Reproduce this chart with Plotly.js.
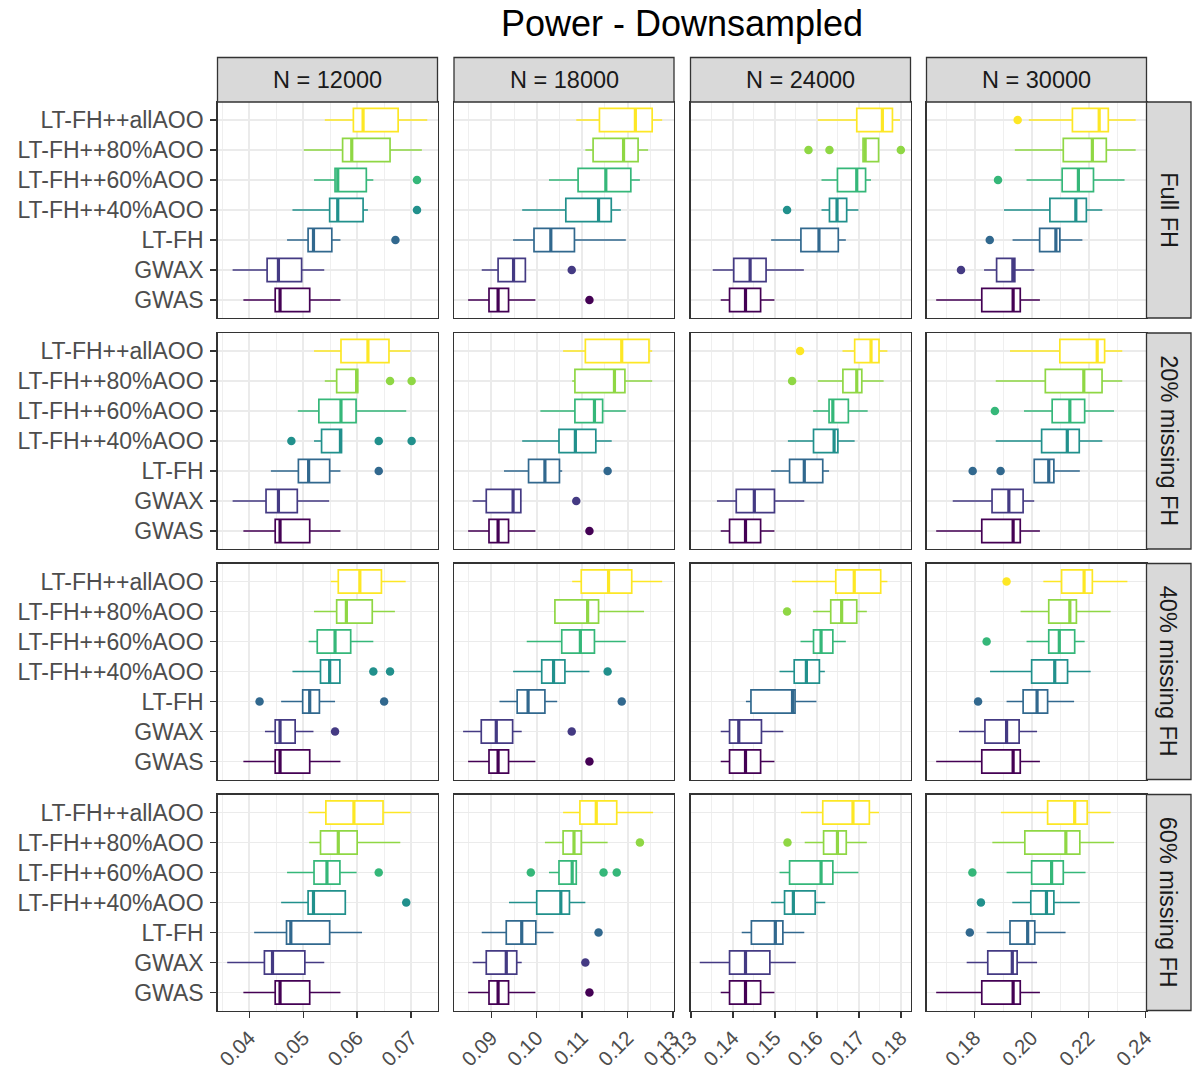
<!DOCTYPE html>
<html>
<head>
<meta charset="utf-8">
<script src="https://cdn.plot.ly/plotly-3.0.1.min.js"></script>
<style>html,body{margin:0;padding:0;background:#fff;}#chart{width:1196px;height:1072px;}</style>
</head>
<body>
<div id="chart"></div>
<script>
// ---------------- DATA ----------------
// categories, bottom to top
const categories = ["GWAS", "GWAX", "LT-FH", "LT-FH++40%AOO", "LT-FH++60%AOO", "LT-FH++80%AOO", "LT-FH++allAOO"];
const sampleSizes = ["N = 12000", "N = 18000", "N = 24000", "N = 30000"];
const fhSettings = ["Full FH", "20% missing FH", "40% missing FH", "60% missing FH"];
const colors = ["#440154", "#443A83", "#31688E", "#21908C", "#35B779", "#8FD744", "#FDE725"];

// each: [lowerWhisker, Q1, median, Q3, upperWhisker] per category (order as `categories`), per sample size
const statsFullFH = [
  [[0.0389,0.0448,0.0457,0.0512,0.0569],[0.0369,0.0433,0.0454,0.0497,0.0539],[0.0470,0.0509,0.0519,0.0553,0.0569],[0.0480,0.0549,0.0564,0.0611,0.0620],[0.0520,0.0559,0.0564,0.0617,0.0630],[0.0501,0.0573,0.0590,0.0661,0.0720],[0.0540,0.0593,0.0611,0.0676,0.0730]],
  [[0.0849,0.0895,0.0915,0.0938,0.0997],[0.0879,0.0915,0.0949,0.0975,0.0976],[0.0948,0.0994,0.1031,0.1083,0.1196],[0.0968,0.1064,0.1136,0.1164,0.1185],[0.1027,0.1091,0.1152,0.1207,0.1227],[0.1107,0.1124,0.1191,0.1223,0.1245],[0.1087,0.1138,0.1217,0.1254,0.1276]],
  [[0.1371,0.1392,0.1430,0.1466,0.1499],[0.1352,0.1402,0.1441,0.1479,0.1569],[0.1491,0.1562,0.1605,0.1651,0.1669],[0.1611,0.1630,0.1648,0.1671,0.1699],[0.1611,0.1649,0.1695,0.1716,0.1729],[0.1710,0.1710,0.1715,0.1747,0.1748],[0.1602,0.1695,0.1756,0.1780,0.1798]],
  [[0.1665,0.1825,0.1935,0.1960,0.2029],[0.1833,0.1877,0.1934,0.1941,0.2009],[0.1933,0.2028,0.2085,0.2099,0.2178],[0.1903,0.2064,0.2155,0.2192,0.2248],[0.1982,0.2107,0.2164,0.2217,0.2326],[0.1941,0.2111,0.2213,0.2262,0.2365],[0.1990,0.2143,0.2237,0.2269,0.2365]]
];
const stats20 = [
  [[0.0389,0.0448,0.0457,0.0512,0.0569],[0.0369,0.0431,0.0454,0.0489,0.0548],[0.0440,0.0491,0.0510,0.0549,0.0569],[0.0520,0.0534,0.0569,0.0571,0.0571],[0.0490,0.0529,0.0570,0.0598,0.0691],[0.0540,0.0562,0.0599,0.0601,0.0601],[0.0520,0.0570,0.0620,0.0659,0.0699]],
  [[0.0849,0.0895,0.0915,0.0938,0.0997],[0.0859,0.0889,0.0948,0.0965,0.0967],[0.0928,0.0982,0.1018,0.1050,0.1056],[0.0968,0.1049,0.1085,0.1130,0.1165],[0.1008,0.1084,0.1127,0.1145,0.1196],[0.1078,0.1084,0.1171,0.1194,0.1254],[0.1058,0.1107,0.1187,0.1247,0.1254]],
  [[0.1371,0.1392,0.1430,0.1466,0.1499],[0.1362,0.1408,0.1451,0.1499,0.1570],[0.1491,0.1535,0.1570,0.1614,0.1629],[0.1531,0.1592,0.1641,0.1650,0.1690],[0.1591,0.1629,0.1638,0.1675,0.1721],[0.1602,0.1662,0.1695,0.1707,0.1759],[0.1661,0.1690,0.1729,0.1748,0.1768]],
  [[0.1665,0.1825,0.1935,0.1960,0.2029],[0.1723,0.1861,0.1920,0.1970,0.2009],[0.2009,0.2009,0.2060,0.2078,0.2169],[0.1874,0.2035,0.2125,0.2167,0.2248],[0.1973,0.2072,0.2134,0.2186,0.2289],[0.1874,0.2048,0.2183,0.2247,0.2318],[0.1924,0.2099,0.2230,0.2256,0.2318]]
];
const stats40 = [
  [[0.0389,0.0448,0.0457,0.0512,0.0569],[0.0429,0.0448,0.0457,0.0485,0.0519],[0.0459,0.0499,0.0512,0.0530,0.0559],[0.0480,0.0532,0.0549,0.0568,0.0569],[0.0510,0.0526,0.0559,0.0588,0.0630],[0.0520,0.0562,0.0580,0.0628,0.0670],[0.0551,0.0565,0.0605,0.0645,0.0690]],
  [[0.0849,0.0895,0.0915,0.0938,0.0997],[0.0838,0.0878,0.0911,0.0947,0.0967],[0.0918,0.0957,0.0981,0.1018,0.1045],[0.0948,0.1011,0.1037,0.1062,0.1116],[0.0978,0.1055,0.1096,0.1127,0.1196],[0.1038,0.1040,0.1112,0.1136,0.1236],[0.1078,0.1098,0.1158,0.1209,0.1276]],
  [[0.1371,0.1392,0.1430,0.1466,0.1499],[0.1371,0.1392,0.1414,0.1468,0.1520],[0.1431,0.1443,0.1542,0.1548,0.1599],[0.1511,0.1546,0.1575,0.1606,0.1619],[0.1561,0.1592,0.1610,0.1638,0.1669],[0.1591,0.1633,0.1659,0.1695,0.1719],[0.1541,0.1645,0.1689,0.1752,0.1768]],
  [[0.1665,0.1825,0.1935,0.1960,0.2029],[0.1745,0.1836,0.1912,0.1956,0.2019],[0.1912,0.1970,0.2019,0.2056,0.2149],[0.1854,0.2000,0.2081,0.2126,0.2207],[0.1982,0.2060,0.2097,0.2151,0.2186],[0.1961,0.2060,0.2134,0.2157,0.2277],[0.2041,0.2105,0.2184,0.2213,0.2336]]
];
const stats60 = [
  [[0.0389,0.0448,0.0457,0.0512,0.0569],[0.0359,0.0428,0.0443,0.0503,0.0539],[0.0409,0.0469,0.0477,0.0549,0.0609],[0.0459,0.0509,0.0519,0.0578,0.0578],[0.0470,0.0520,0.0544,0.0568,0.0599],[0.0511,0.0532,0.0565,0.0600,0.0680],[0.0510,0.0542,0.0594,0.0648,0.0699]],
  [[0.0849,0.0895,0.0915,0.0938,0.0997],[0.0859,0.0889,0.0933,0.0956,0.0967],[0.0879,0.0933,0.0967,0.0998,0.1037],[0.0939,0.1000,0.1053,0.1072,0.1107],[0.1027,0.1049,0.1078,0.1087,0.1087],[0.1018,0.1058,0.1082,0.1098,0.1156],[0.1058,0.1095,0.1131,0.1176,0.1256]],
  [[0.1371,0.1392,0.1430,0.1466,0.1499],[0.1321,0.1392,0.1430,0.1488,0.1550],[0.1421,0.1444,0.1501,0.1519,0.1570],[0.1491,0.1523,0.1544,0.1596,0.1620],[0.1511,0.1535,0.1610,0.1638,0.1699],[0.1571,0.1616,0.1649,0.1670,0.1719],[0.1562,0.1614,0.1686,0.1725,0.1748]],
  [[0.1665,0.1825,0.1935,0.1960,0.2029],[0.1772,0.1846,0.1932,0.1949,0.2019],[0.1842,0.1924,0.1986,0.2011,0.2119],[0.1932,0.1997,0.2052,0.2078,0.2169],[0.1912,0.2000,0.2070,0.2111,0.2189],[0.1862,0.1976,0.2120,0.2169,0.2289],[0.1892,0.2056,0.2151,0.2195,0.2277]]
];

// outliers per sample size: [category, value]
const outliersFullFH = [
  [["LT-FH",0.0671],["LT-FH++40%AOO",0.0711],["LT-FH++60%AOO",0.0711]],
  [["GWAS",0.1116],["GWAX",0.1077]],
  [["LT-FH++40%AOO",0.1529],["LT-FH++80%AOO",0.1580],["LT-FH++80%AOO",0.1630],["LT-FH++80%AOO",0.1800]],
  [["GWAX",0.1752],["LT-FH",0.1853],["LT-FH++60%AOO",0.1882],["LT-FH++allAOO",0.1951]]
];
const outliers20 = [
  [["LT-FH",0.0640],["LT-FH++40%AOO",0.0478],["LT-FH++40%AOO",0.0640],["LT-FH++40%AOO",0.0701],["LT-FH++80%AOO",0.0661],["LT-FH++80%AOO",0.0701]],
  [["GWAS",0.1116],["GWAX",0.1087],["LT-FH",0.1156]],
  [["LT-FH++80%AOO",0.1541],["LT-FH++allAOO",0.1560]],
  [["LT-FH",0.1793],["LT-FH",0.1891],["LT-FH++60%AOO",0.1871]]
];
const outliers40 = [
  [["GWAX",0.0559],["LT-FH",0.0419],["LT-FH",0.0650],["LT-FH++40%AOO",0.0630],["LT-FH++40%AOO",0.0661]],
  [["GWAS",0.1116],["GWAX",0.1077],["LT-FH",0.1187],["LT-FH++40%AOO",0.1156]],
  [["LT-FH++80%AOO",0.1529]],
  [["LT-FH",0.1812],["LT-FH++60%AOO",0.1842],["LT-FH++allAOO",0.1912]]
];
const outliers60 = [
  [["LT-FH++40%AOO",0.0691],["LT-FH++60%AOO",0.0640]],
  [["GWAS",0.1116],["GWAX",0.1107],["LT-FH",0.1136],["LT-FH++60%AOO",0.0987],["LT-FH++60%AOO",0.1147],["LT-FH++60%AOO",0.1176],["LT-FH++80%AOO",0.1227]],
  [["LT-FH++80%AOO",0.1530]],
  [["LT-FH",0.1783],["LT-FH++40%AOO",0.1822],["LT-FH++60%AOO",0.1792]]
];

const allStats = [statsFullFH, stats20, stats40, stats60];
const allOutliers = [outliersFullFH, outliers20, outliers40, outliers60];

// x-axis ticks per sample size column
const xTick0 = [0.04, 0.09, 0.13, 0.18];
const xDtick = [0.01, 0.01, 0.01, 0.02];

// ---------------- LAYOUT GEOMETRY ----------------
const W = 1196, H = 1072;
const colPx = [[217.5,437.5],[454,674],[690.5,910.5],[926.5,1146.5]];
const rowPx = [[102,318],[333,549],[563.5,779.5],[794.5,1010.5]];
const xRanges = [[0.0341,0.0749],[0.0818,0.1302],[0.1299,0.1823],[0.1631,0.2403]];
const FONT = "Liberation Sans, Arial, Helvetica, sans-serif";

const data = [];
const layout = {
  width: W, height: H,
  margin: {l:0, r:0, t:0, b:0},
  paper_bgcolor: "#ffffff", plot_bgcolor: "#ffffff",
  showlegend: false,
  boxmode: "overlay",
  font: {family: FONT, color: "#4D4D4D"},
  title: {text: "Power - Downsampled", x: 682/W, xanchor: "center", y: 1 - 23/H, yanchor: "middle",
          font: {family: FONT, size: 36, color: "#000000"}},
  shapes: [], annotations: []
};

for (let r = 0; r < 4; r++) {
  for (let c = 0; c < 4; c++) {
    const n = r*4 + c + 1;
    const xa = n === 1 ? "xaxis" : "xaxis" + n;
    const ya = n === 1 ? "yaxis" : "yaxis" + n;
    const xr = n === 1 ? "x" : "x" + n;
    const yr = n === 1 ? "y" : "y" + n;
    const bottom = (r === 3), left = (c === 0);
    layout[xa] = {
      domain: [colPx[c][0]/W, colPx[c][1]/W],
      anchor: yr, range: xRanges[c], autorange: false,
      tickmode: "linear", tick0: xTick0[c], dtick: xDtick[c], tickformat: ".2f",
      showgrid: true, gridcolor: "#EBEBEB", gridwidth: 1.9,
      minor: {tickmode: "linear", tick0: xTick0[c], dtick: xDtick[c]/2, showgrid: true, gridcolor: "#EFEFEF", gridwidth: 1, ticklen: 0},
      zeroline: false, showline: true, mirror: true, linecolor: "#333333", linewidth: 1.3,
      ticks: bottom ? "outside" : "", ticklen: 6, tickwidth: 1.4, tickcolor: "#333333",
      showticklabels: bottom, tickangle: -45,
      tickfont: {family: FONT, size: 20.5, color: "#4D4D4D"},
      fixedrange: true
    };
    layout[ya] = {
      domain: [1 - rowPx[r][1]/H, 1 - rowPx[r][0]/H],
      anchor: xr, range: [0.4, 7.6], autorange: false,
      tickmode: "array", tickvals: categories.map((_, i) => i + 1), ticktext: categories,
      showgrid: true, gridcolor: "#EBEBEB", gridwidth: 1.9,
      zeroline: false, showline: true, mirror: true, linecolor: "#333333", linewidth: 1.3,
      ticks: left ? "outside" : "", ticklen: 6, tickwidth: 1.4, tickcolor: "#333333",
      showticklabels: left, ticklabelstandoff: 2,
      tickfont: {family: FONT, size: 23, color: "#4D4D4D"},
      fixedrange: true
    };

    const st = allStats[r][c];
    categories.forEach((cat, k) => {
      const s = st[k];
      data.push({
        type: "box", orientation: "h", xaxis: xr, yaxis: yr,
        y: [k + 1], lowerfence: [s[0]], q1: [s[1]], median: [s[2]], q3: [s[3]], upperfence: [s[4]],
        width: 0.78, whiskerwidth: 0, boxpoints: false,
        fillcolor: "#ffffff", line: {color: colors[k], width: 1.7},
        hoverinfo: "skip", showlegend: false
      });
      data.push({
        type: "scatter", mode: "lines", xaxis: xr, yaxis: yr,
        x: [s[2], s[2]], y: [k + 1 - 0.39, k + 1 + 0.39],
        line: {color: colors[k], width: 3.2}, hoverinfo: "skip", showlegend: false
      });
    });
    const outs = allOutliers[r][c];
    data.push({
      type: "scatter", mode: "markers", xaxis: xr, yaxis: yr,
      x: outs.map(o => o[1]), y: outs.map(o => categories.indexOf(o[0]) + 1),
      marker: {size: 8.5, color: outs.map(o => colors[categories.indexOf(o[0])])},
      hoverinfo: "skip", showlegend: false, cliponaxis: false
    });
  }
}

// top strips (sample size)
for (let c = 0; c < 4; c++) {
  layout.shapes.push({type: "rect", xref: "paper", yref: "paper",
    x0: colPx[c][0]/W, x1: colPx[c][1]/W, y0: 1 - 102/H, y1: 1 - 57.5/H,
    fillcolor: "#D9D9D9", line: {color: "#333333", width: 1.3}, layer: "above"});
  layout.annotations.push({xref: "paper", yref: "paper", x: (colPx[c][0] + colPx[c][1])/2/W, y: 1 - 80/H,
    xanchor: "center", yanchor: "middle", showarrow: false, text: sampleSizes[c],
    font: {family: FONT, size: 23.5, color: "#1A1A1A"}});
}
// right strips (FH setting)
for (let r = 0; r < 4; r++) {
  layout.shapes.push({type: "rect", xref: "paper", yref: "paper",
    x0: 1146.5/W, x1: 1191/W, y0: 1 - rowPx[r][1]/H, y1: 1 - rowPx[r][0]/H,
    fillcolor: "#D9D9D9", line: {color: "#333333", width: 1.3}, layer: "above"});
  layout.annotations.push({xref: "paper", yref: "paper", x: 1168.75/W, y: 1 - (rowPx[r][0] + rowPx[r][1])/2/H,
    xanchor: "center", yanchor: "middle", showarrow: false, text: fhSettings[r], textangle: 90,
    font: {family: FONT, size: 23.5, color: "#1A1A1A"}});
}

Plotly.newPlot("chart", data, layout, {staticPlot: true, displayModeBar: false});
</script>
</body>
</html>
